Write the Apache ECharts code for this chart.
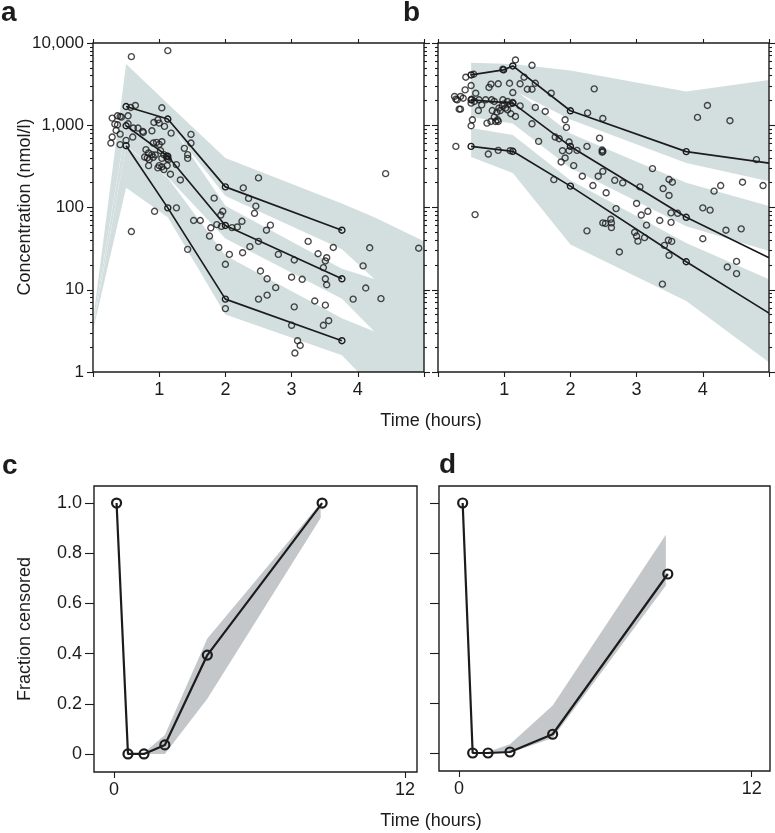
<!DOCTYPE html>
<html><head><meta charset="utf-8">
<script src="https://cdn.jsdelivr.net/npm/echarts@6/dist/echarts.min.js"></script>
<style>html,body{margin:0;padding:0;background:#fff}#c{width:775px;height:833px}</style>
</head><body><div id="c"></div>
<script>
// ---------- Panel a : observations (time h, concentration nmol/l) ----------
const aObs = [[0.58,6820],[1.13,8070],[0.57,1645],[0.64,1740],[1.04,1630],[0.29,1222],[0.37,1303],[0.41,1280],[0.43,1256],[0.33,1033],[0.37,1014],[0.53,1303],[0.53,1042],[0.61,925],[0.68,925],[0.75,842],[0.76,818],[0.92,1081],[0.98,1166],[1.0,1062],[1.08,968],[0.35,865],[0.41,781],[0.29,719],[0.27,608],[0.41,581],[0.5,655],[0.6,719],[0.89,857],[1.18,803],[1.48,774],[1.48,608],[1.38,524],[1.43,439],[1.43,396],[0.91,608],[0.96,620],[1.04,631],[1.0,586],[0.8,505],[0.84,460],[0.89,439],[0.78,411],[0.82,400],[0.85,382],[0.91,408],[0.94,435],[1.02,491],[1.07,439],[1.11,419],[1.04,396],[1.12,396],[1.14,382],[0.84,323],[1.0,323],[1.04,311],[0.98,303],[1.07,289],[1.12,323],[1.17,254],[1.26,332],[1.32,216],[0.93,90],[1.26,99],[0.58,51],[1.83,130],[1.96,90],[1.93,81],[1.52,69.5],[1.62,69.5],[1.78,56.7],[1.76,45],[1.87,62],[1.94,59],[2.1,57],[2.18,58],[2.25,68],[1.9,32.7],[2.06,26.9],[2.0,20.4],[2.26,28.2],[2.37,33.4],[1.43,31],[2.0,5.9],[2.5,229],[2.27,173],[2.35,129],[2.46,104],[2.44,85],[2.5,38.7],[2.53,16.9],[2.5,7.7],[2.68,61],[2.62,53],[2.8,26.9],[2.63,13.6],[2.76,10.6],[2.63,8.6],[3.25,38.7],[3.4,27.4],[3.53,24.5],[3.51,22.4],[3.48,18.6],[3.63,32.7],[3.04,23],[3.0,14.2],[3.16,13.4],[3.51,13.6],[3.53,11.5],[3.04,6.2],[3.35,7.3],[3.51,6.5],[3.56,4.2],[3.48,3.7],[3.0,3.7],[3.09,2.4],[3.13,2.1],[3.05,1.7],[4.08,19.5],[4.18,32.4],[4.12,10.5],[3.93,7.7],[4.35,7.8],[4.42,258],[4.92,32]];
// observed percentile lines (95th, 50th, 5th)
const aLineTime = [0.5, 1.13, 2.0, 3.76];
const aLineHigh = [1690, 1190, 178, 53];
const aLineMid = [986, 419, 60.5, 13.6];
const aLineLow = [564, 99, 7.7, 2.4];
// simulated prediction bands
const aBandTime = [0, 0.5, 1.13, 2, 3.76, 4.25, 5];
const aUpperHi = [4.2, 5560, 1820, 400, 112, 76, 39];
const aUpperLo = [3.8, 1000, 1070, 138, 31, 13.5, 6.3];
const aMidHi = [3.7, 980, 1120, 105, 18, 13.5, 16];
const aMidLo = [3.5, 560, 234, 42, 7.8, 3.1, 1.0];
const aLowHi = [3.4, 550, 229, 26, 4.5, 3.1, 3.2];
const aLowLo = [3.2, 174, 76, 5.0, 1.6, 0.63, 0.32];

// ---------- Panel b ----------
const bObs = [[1.17,6220],[1.42,5360],[0.98,4800],[0.42,3840],[0.54,4170],[0.5,3040],[1.3,3840],[1.47,3240],[0.77,2880],[0.8,3160],[0.91,3190],[1.08,3240],[1.24,3190],[1.35,2740],[1.42,2740],[0.41,2690],[0.57,2450],[1.13,2500],[1.71,2450],[0.25,2240],[0.29,2040],[0.34,2240],[0.38,2130],[0.27,2080],[0.51,2080],[0.55,1945],[0.62,2040],[0.72,2040],[0.81,2040],[0.85,1945],[0.5,1860],[0.66,1770],[0.32,1570],[0.34,1570],[0.61,1510],[0.98,2040],[1.0,1820],[1.05,1945],[1.09,1820],[1.13,1890],[0.92,1615],[0.97,1720],[1.02,1615],[0.82,1510],[0.89,1445],[0.94,1510],[1.05,1540],[1.1,1380],[1.17,1280],[1.24,1720],[0.85,1256],[0.9,1166],[0.74,1062],[0.8,1112],[0.87,1112],[0.91,1112],[0.52,1166],[0.5,986],[1.47,1645],[1.62,1470],[1.42,1042],[1.92,1166],[1.94,942],[1.77,719],[1.83,686],[1.52,637],[1.98,625],[2.25,553],[2.44,698],[1.88,490],[1.98,490],[2.1,495],[1.92,400],[1.86,358],[2.05,323],[2.18,240],[2.42,240],[2.34,185],[2.49,275],[1.75,218],[2.25,52],[2.49,65],[0.56,82],[0.27,553],[0.76,447],[0.91,495],[1.09,490],[2.36,2770],[2.26,1413],[2.48,500],[2.48,470],[2.49,1210],[2.49,482],[3.92,1245],[4.07,1740],[4.41,1135],[4.81,382],[3.24,297],[2.67,214],[2.79,199],[3.05,178],[3.49,219],[3.54,203],[3.4,170],[3.49,140],[2.54,151],[4.27,185],[4.17,158],[4.6,203],[4.91,185],[2.69,97],[3.0,112],[3.07,81],[3.17,90],[3.15,61],[3.35,69.5],[3.52,66],[3.52,86],[3.62,85],[4.0,99],[4.11,93],[4.0,41.7],[4.35,53],[4.58,55],[2.53,64],[2.61,72],[2.62,65],[2.62,57],[2.74,28.8],[2.97,50],[3.0,45],[3.02,39],[3.12,43],[3.42,34.6],[3.48,40],[3.53,38.7],[3.49,26.2],[3.39,11.7],[4.37,18.9],[4.51,22.1],[4.51,15.7]];
const bHighTime = [0.5, 0.99, 1.13, 2.0, 3.75, 5];
const bLineHigh = [4090, 4710, 5260, 1500, 478, 347];
const bLineTime = [0.5, 1.13, 2.0, 3.75, 5];
const bLineMid = [2040, 1860, 553, 76, 24.5];
const bLineLow = [553, 482, 182, 21.9, 5.2];
const bBandTime = [0.5, 1.13, 2, 3.75, 5];
const bUpperHi = [5750, 5560, 4620, 2570, 3550];
const bUpperLo = [2690, 2690, 1175, 347, 209];
const bMidHi = [2950, 2820, 794, 200, 104];
const bMidLo = [1260, 1050, 302, 59, 29.5];
const bLowHi = [925, 760, 214, 37, 13.4];
const bLowLo = [411, 263, 35.5, 7.3, 1.31];

// ---------- Panels c, d : fraction censored ----------
const cTime = [0.11, 0.58, 1.24, 2.1, 3.85, 8.58];
const cFrac = [1.0, 0, 0, 0.036, 0.394, 1.0];
const cBandTime = [1.24, 2.1, 3.85, 8.52];
const cBandLo = [0, 0, 0.22, 0.94];
const cBandHi = [0.005, 0.075, 0.46, 1.0];
const dTime = [0.15, 0.56, 1.19, 2.09, 3.84, 8.56];
const dFrac = [1.0, 0, 0, 0.004, 0.075, 0.716];
const dBandTime = [1.19, 2.09, 3.84, 8.48];
const dBandLo = [0, 0, 0.06, 0.67];
const dBandHi = [0.005, 0.035, 0.19, 0.873];

// tick values
const logMajor = [1, 10, 100, 1000, 10000];
const hourTicks = [0, 1, 2, 3, 4, 5];
const hourLabels = [1, 2, 3, 4];
const fracTicks = [0, 0.2, 0.4, 0.6, 0.8, 1.0];
const longTicks = [0, 12];

const logMinor = [];
for (let k = 0; k < 4; k++) for (let m = 2; m <= 9; m++) logMinor.push(m * Math.pow(10, k));

const FONT = "'Liberation Sans', Arial, Helvetica, sans-serif";
const INK = '#1c1c1c';
const BAND_AB = '#d3dfde';
const BAND_CD = '#c3c7c9';

const zip = (t, v) => t.map((x, i) => [x, v[i]]);

const grid = [
  {left: 93, top: 43, width: 331, height: 329},
  {left: 438, top: 43, width: 331, height: 329},
  {left: 94, top: 486, width: 323, height: 286},
  {left: 439, top: 486, width: 331, height: 285}
].map(g => Object.assign(g, {show: true, z: 10, borderColor: INK, borderWidth: 1.4, backgroundColor: 'rgba(0,0,0,0)'}));

const tickStyle = {color: INK, width: 1.1};
function xAx(gi, pos, min, max, ticks, labels, len) {
  return {
    gridIndex: gi, type: 'value', position: pos, min: min, max: max,
    axisLine: {show: false, onZero: false},
    axisTick: {show: true, length: len, lineStyle: tickStyle, customValues: ticks},
    axisLabel: labels ? {show: true, customValues: labels, fontSize: 18, fontFamily: FONT, color: INK, margin: 9,
      formatter: v => String(Math.round(v))} : {show: false},
    splitLine: {show: false}
  };
}
function yLog(gi, pos, ticks, len, labels) {
  return {
    gridIndex: gi, type: 'log', logBase: 10, position: pos, min: 1, max: 10000,
    axisLine: {show: false, onZero: false},
    axisTick: {show: true, length: len, lineStyle: tickStyle, customValues: ticks},
    axisLabel: labels ? {show: true, customValues: logMajor, fontSize: 17, fontFamily: FONT, color: INK, margin: 9,
      formatter: v => Math.round(v).toLocaleString('en-US')} : {show: false},
    splitLine: {show: false}
  };
}
function yFrac(gi, labels) {
  return {
    gridIndex: gi, type: 'value', position: 'left', min: -0.072, max: 1.068,
    axisLine: {show: false, onZero: false},
    axisTick: {show: true, length: 9, lineStyle: tickStyle, customValues: fracTicks},
    axisLabel: labels ? {show: true, customValues: fracTicks, fontSize: 18, fontFamily: FONT, color: INK, margin: 12,
      formatter: v => (Math.abs(v) < 1e-9 ? '0' : v.toFixed(1))} : {show: false},
    splitLine: {show: false}
  };
}

const xAxis = [
  xAx(0, 'bottom', 0, 5, hourTicks, hourLabels, 5),
  xAx(0, 'top', 0, 5, hourTicks, null, 4),
  xAx(1, 'bottom', 0, 5, hourTicks, hourLabels, 5),
  xAx(1, 'top', 0, 5, hourTicks, null, 4),
  xAx(2, 'bottom', -0.82, 12.49, longTicks, longTicks, 6),
  xAx(3, 'bottom', -0.82, 12.75, longTicks, longTicks, 6)
];
const yAxis = [
  yLog(0, 'left', logMajor, 6, true),
  yLog(0, 'left', logMinor, 3, false),
  yLog(0, 'right', logMajor, 6, false),
  yLog(0, 'right', logMinor, 3, false),
  yLog(1, 'left', logMajor, 6, false),
  yLog(1, 'left', logMinor, 3, false),
  yLog(1, 'right', logMajor, 6, false),
  yLog(1, 'right', logMinor, 3, false),
  yFrac(2, true),
  yFrac(3, false)
];

function band(xi, yi, times, lo, hi, color) {
  return {
    type: 'custom', xAxisIndex: xi, yAxisIndex: yi, clip: true, silent: true, z: 1,
    data: [[times[0], hi[0]]],
    renderItem: (params, api) => {
      const pts = [];
      for (let i = 0; i < times.length; i++) pts.push(api.coord([times[i], hi[i]]));
      for (let i = times.length - 1; i >= 0; i--) pts.push(api.coord([times[i], lo[i]]));
      return {type: 'polygon', shape: {points: pts}, style: {fill: color, stroke: null}};
    }
  };
}
function obs(xi, yi, data) {
  return {
    type: 'scatter', xAxisIndex: xi, yAxisIndex: yi, data: data, z: 3, silent: true,
    symbol: 'circle', symbolSize: 6,
    itemStyle: {color: 'rgba(0,0,0,0)', borderColor: INK, borderWidth: 1.4}
  };
}
function pline(xi, yi, data, size, width, bw) {
  return {
    type: 'line', xAxisIndex: xi, yAxisIndex: yi, data: data, z: 4, silent: true,
    symbol: 'circle', symbolSize: size, showSymbol: true,
    lineStyle: {color: INK, width: width},
    itemStyle: {color: 'rgba(0,0,0,0)', borderColor: INK, borderWidth: bw}
  };
}
function lineWithOpenEnd(times, vals) {
  return times.map((t, i) => i === times.length - 1 ? {value: [t, vals[i]], symbol: 'none'} : [t, vals[i]]);
}

const series = [
  band(0, 0, aBandTime, aUpperLo, aUpperHi, BAND_AB),
  band(0, 0, aBandTime, aMidLo, aMidHi, BAND_AB),
  band(0, 0, aBandTime, aLowLo, aLowHi, BAND_AB),
  obs(0, 0, aObs),
  pline(0, 0, zip(aLineTime, aLineHigh), 6, 1.7, 1.4),
  pline(0, 0, zip(aLineTime, aLineMid), 6, 1.7, 1.4),
  pline(0, 0, zip(aLineTime, aLineLow), 6, 1.7, 1.4),

  band(2, 4, bBandTime, bUpperLo, bUpperHi, BAND_AB),
  band(2, 4, bBandTime, bMidLo, bMidHi, BAND_AB),
  band(2, 4, bBandTime, bLowLo, bLowHi, BAND_AB),
  obs(2, 4, bObs),
  pline(2, 4, lineWithOpenEnd(bHighTime, bLineHigh), 6, 1.7, 1.4),
  pline(2, 4, lineWithOpenEnd(bLineTime, bLineMid), 6, 1.7, 1.4),
  pline(2, 4, lineWithOpenEnd(bLineTime, bLineLow), 6, 1.7, 1.4),

  band(4, 8, cBandTime, cBandLo, cBandHi, BAND_CD),
  pline(4, 8, zip(cTime, cFrac), 9, 2.2, 2.2),
  band(5, 9, dBandTime, dBandLo, dBandHi, BAND_CD),
  pline(5, 9, zip(dTime, dFrac), 9, 2.2, 2.2)
];

const txt = (text, x, y, opts) => Object.assign({
  type: 'text', x: x, y: y, silent: true,
  style: {text: text, font: (opts && opts.font) || `18px ${FONT}`, fill: INK,
    align: (opts && opts.align) || 'center', verticalAlign: 'middle'}
}, opts && opts.rotation ? {rotation: opts.rotation} : {});

const graphic = [
  txt('a', 1, 13, {font: `bold 28px ${FONT}`, align: 'left'}),
  txt('b', 403, 13, {font: `bold 28px ${FONT}`, align: 'left'}),
  txt('c', 2, 466, {font: `bold 28px ${FONT}`, align: 'left'}),
  txt('d', 439, 465, {font: `bold 28px ${FONT}`, align: 'left'}),
  txt('Concentration (nmol/l)', 25, 207, {rotation: Math.PI / 2}),
  txt('Time (hours)', 431, 421),
  txt('Fraction censored', 25, 629, {rotation: Math.PI / 2}),
  txt('Time (hours)', 431, 821)
];

const chart = echarts.init(document.getElementById('c'), null, {renderer: 'canvas'});
chart.setOption({
  animation: false,
  backgroundColor: '#fff',
  textStyle: {fontFamily: FONT},
  grid: grid, xAxis: xAxis, yAxis: yAxis, series: series, graphic: graphic
});
</script>
</body></html>
